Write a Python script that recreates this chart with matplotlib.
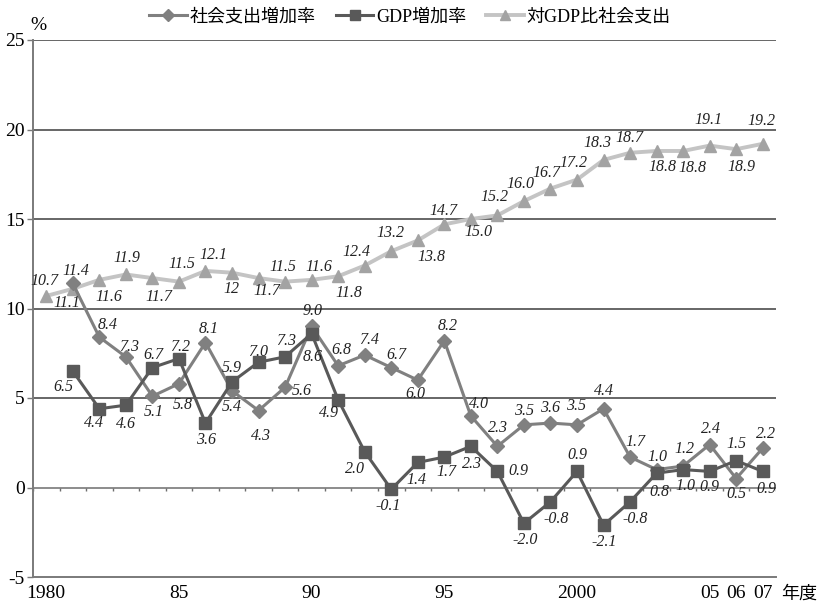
import matplotlib
matplotlib.use('Agg')
import matplotlib.pyplot as plt
import numpy as np

# 社会支出の推移 (1980-2007年度)
years = list(range(1980, 2008))
years_g = years[1:]

ratio = [10.7, 11.1, 11.6, 11.9, 11.7, 11.5, 12.1, 12.0, 11.7, 11.5,
         11.6, 11.8, 12.4, 13.2, 13.8, 14.7, 15.0, 15.2, 16.0, 16.7,
         17.2, 18.3, 18.7, 18.8, 18.8, 19.1, 18.9, 19.2]
social = [11.4, 8.4, 7.3, 5.1, 5.8, 8.1, 5.4, 4.3, 5.6, 9.0,
          6.8, 7.4, 6.7, 6.0, 8.2, 4.0, 2.3, 3.5, 3.6, 3.5,
          4.4, 1.7, 1.0, 1.2, 2.4, 0.5, 2.2]
gdp = [6.5, 4.4, 4.6, 6.7, 7.2, 3.6, 5.9, 7.0, 7.3, 8.6,
       4.9, 2.0, -0.1, 1.4, 1.7, 2.3, 0.9, -2.0, -0.8, 0.9,
       -2.1, -0.8, 0.8, 1.0, 0.9, 1.5, 0.9]

xticks = [1980, 1985, 1990, 1995, 2000, 2005, 2006, 2007]
xticklabels = ['1980', '85', '90', '95', '2000', '05', '06', '07']
yticks = [-5, 0, 5, 10, 15, 20, 25]
names = ['社会支出増加率', 'GDP増加率', '対GDP比社会支出']

# label offsets in pixels (dx, dy)
off_ratio = [(-2, 15), (-6, -14), (10, -17), (1, 16), (6, -19), (3, 18), (8, 16),
             (-1, -16), (8, -13), (-2, 15), (7, 13), (11, -17), (-8, 14), (-1, 18),
             (14, -17), (-1, 13), (8, -13), (-3, 18), (-3, 17), (-4, 16), (-4, 17),
             (-6, 17), (-1, 15), (6, -16), (9, -17), (-1, 26), (5, -18), (-1, 23)]
off_social = [(3, 12), (8, 12), (3, 10), (1, -16), (4, -21), (3, 14), (0, -16),
              (2, -25), (17, -4), (1, 15), (3, 16), (4, 15), (5, 13), (-2, -14),
              (3, 15), (8, 12), (1, 18), (0, 14), (0, 15), (-1, 19), (0, 18),
              (5, 15), (1, 13), (1, 17), (1, 16), (0, -15), (3, 14)]
off_gdp = [(-9, -16), (-5, -14), (0, -19), (1, 13), (1, 12), (1, -17), (0, 14),
           (0, 10), (1, 16), (1, -23), (-9, -13), (-10, -17), (-3, -17), (-1, -18),
           (2, -15), (1, -18), (21, 0), (1, -17), (6, -17), (0, 16), (1, -17),
           (5, -17), (3, -19), (2, -16), (0, -16), (0, 17), (4, -18)]

ratio_lbl = ['%.1f' % v for v in ratio]
ratio_lbl[7] = '12'

c_social = '#808080'
c_gdp = '#595959'
c_ratio = '#c4c4c4'
c_ratio_mk = '#a3a3a3'

serif = ['Liberation Serif', 'DejaVu Serif']
cjk = ['Liberation Serif', 'Noto Sans CJK JP', 'DejaVu Sans']

fig = plt.figure(figsize=(8.24, 6.06), dpi=100)
ax = fig.add_axes([33/824, 29/606, 743/824, 537/606])

ax.plot(years, ratio, color=c_ratio, lw=2.8, marker='^', ms=8,
        mfc=c_ratio_mk, mec=c_ratio_mk, zorder=3, label=names[2])
ax.plot(years_g, social, color=c_social, lw=2.2, marker='D', ms=6.8,
        mfc=c_social, mec=c_social, zorder=4, label=names[0])
ax.plot(years_g, gdp, color=c_gdp, lw=2.2, marker='s', ms=8.5,
        mfc=c_gdp, mec=c_gdp, zorder=5, label=names[1])

lbl_kw = dict(textcoords='offset pixels', ha='center', va='center',
              fontsize=11.5, style='italic', family=serif, color='#222222', zorder=6)
for x, y, t, o in zip(years, ratio, ratio_lbl, off_ratio):
    ax.annotate(t, (x, y), xytext=o, **lbl_kw)
for x, y, o in zip(years_g, social, off_social):
    ax.annotate('%.1f' % y, (x, y), xytext=o, **lbl_kw)
for x, y, o in zip(years_g, gdp, off_gdp):
    ax.annotate('%.1f' % y, (x, y), xytext=o, **lbl_kw)

ax.set_xlim(1979.5, 2007.5)
ax.set_ylim(-5, 25)

# horizontal grid
for v in yticks:
    if v > 0:
        ax.axhline(v, color='#4d4d4d', lw=1.2, zorder=1)
ax.axhline(0, color='#8c8c8c', lw=1.4, zorder=1)
# small category ticks hanging under the zero line
ax.vlines(np.arange(1979.5, 2008, 1.0), -0.22, 0, color='#6e6e6e', lw=1.0, zorder=1)

for s in ['top', 'right']:
    ax.spines[s].set_visible(False)
for s in ['left', 'bottom']:
    ax.spines[s].set_color('#7a7a7a')
    ax.spines[s].set_linewidth(1.4)

ax.set_yticks(yticks)
ax.set_yticklabels([str(v) for v in yticks], family=serif, fontsize=14)
ax.set_xticks(xticks)
ax.set_xticklabels(xticklabels, family=serif, fontsize=14)
ax.tick_params(axis='y', direction='out', length=4, width=1, color='#7a7a7a', pad=2)
ax.tick_params(axis='x', length=0, pad=6)

fig.text(38/824, 1 - 25/606, '%', family=serif, fontsize=14, ha='center', va='center')
fig.text(799/824, 1 - 594/606, '年度', family=cjk, fontsize=13, ha='center', va='center')

h, l = ax.get_legend_handles_labels()
order = [1, 2, 0]
fig.legend([h[i] for i in order], [l[i] for i in order], loc='center',
           bbox_to_anchor=(410/824, 1 - 17/606), ncol=3, frameon=False,
           prop={'family': cjk, 'size': 13}, handlelength=2.1,
           handletextpad=0.15, columnspacing=1.1, borderpad=0, markerscale=0.9)

plt.savefig('out.png', dpi=100)
